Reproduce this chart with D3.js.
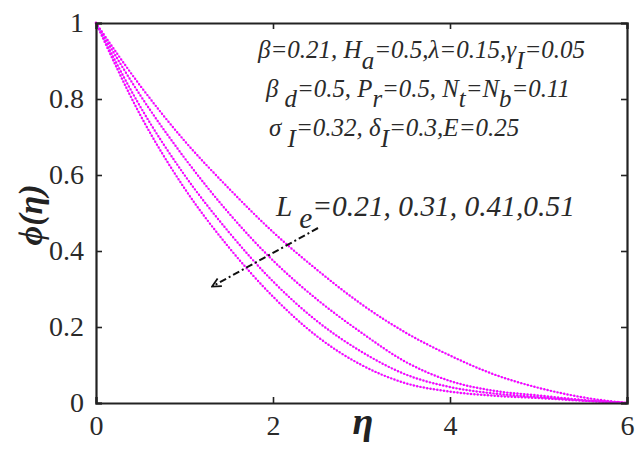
<!DOCTYPE html>
<html>
<head>
<meta charset="utf-8">
<script src="https://cdn.jsdelivr.net/npm/d3@7"></script>
<style>
  svg text { font-family: 'Liberation Serif', 'Times New Roman', serif; }
</style>
</head>
<body style="margin:0">
<svg id="chart" width="644" height="449"></svg>
<script>
const eta = [0, 0.5, 1, 1.5, 2, 2.5, 3, 3.5, 4, 4.5, 5, 5.5, 6]
const phiLe021 = [1, 0.835, 0.69, 0.565, 0.45, 0.35, 0.26, 0.185, 0.125, 0.075, 0.04, 0.015, 0]
const phiLe031 = [1, 0.81, 0.645, 0.5, 0.375, 0.272, 0.185, 0.108, 0.058, 0.032, 0.02, 0.008, 0]
const phiLe041 = [1, 0.78, 0.6, 0.45, 0.32, 0.215, 0.135, 0.075, 0.042, 0.025, 0.016, 0.007, 0]
const phiLe051 = [1, 0.758, 0.565, 0.41, 0.28, 0.175, 0.1, 0.052, 0.03, 0.019, 0.013, 0.006, 0]
const series = [phiLe021, phiLe031, phiLe041, phiLe051]
const xTicks = [0, 2, 4, 6]
const yTicks = [0, 0.2, 0.4, 0.6, 0.8, 1]

const FONT = 'Liberation Serif'
const svg = d3.select('#chart')
const margin = { top: 23, right: 17, bottom: 46, left: 96 }
const W = 644 - margin.left - margin.right
const H = 449 - margin.top - margin.bottom

const x = d3.scaleLinear().domain([0, 6]).range([0, W])
const y = d3.scaleLinear().domain([0, 1]).range([H, 0])

const g = svg.append('g').attr('transform', `translate(${margin.left},${margin.top})`)

// curves: thin blue core + magenta dots
const line = d3.line().x((d, i) => x(eta[i])).y((d) => y(d)).curve(d3.curveMonotoneX)
series.forEach((s) => {
  g.append('path').attr('d', line(s)).attr('fill', 'none')
    .attr('stroke', '#7f8cff').attr('stroke-width', 0.6)
  g.append('path').attr('d', line(s)).attr('fill', 'none')
    .attr('stroke', '#ff00ff').attr('stroke-width', 2.4)
    .attr('stroke-linecap', 'round').attr('stroke-dasharray', '0,3.4')
})

// axes box with inward ticks
const tickLen = 6
const axB = g.append('g').attr('transform', `translate(0,${H})`)
  .call(d3.axisBottom(x).tickValues(xTicks).tickSize(-tickLen).tickPadding(12).tickFormat(d3.format('d')))
const axT = g.append('g')
  .call(d3.axisTop(x).tickValues(xTicks).tickSize(-tickLen).tickFormat(''))
const axL = g.append('g')
  .call(d3.axisLeft(y).tickValues(yTicks).tickSize(-tickLen).tickPadding(12).tickFormat((d) => d === 0 || d === 1 ? d3.format('d')(d) : d3.format('.1f')(d)))
const axR = g.append('g').attr('transform', `translate(${W},0)`)
  .call(d3.axisRight(y).tickValues(yTicks).tickSize(-tickLen).tickFormat(''))
;[axB, axT, axL, axR].forEach((a) => {
  a.attr('font-family', FONT)
  a.select('.domain').attr('stroke', '#222').attr('stroke-width', 2.2)
  a.selectAll('.tick line').attr('stroke', '#222').attr('stroke-width', 1.6)
  a.selectAll('.tick text').attr('font-family', FONT).attr('font-size', 28).attr('fill', '#2a2a2a')
})

// axis titles
svg.append('text').attr('x', 363).attr('y', 434).attr('text-anchor', 'middle').attr('fill', '#222')
  .attr('font-family', FONT).attr('font-size', 38).attr('font-style', 'italic').attr('font-weight', 'bold').text('η')
svg.append('text').attr('transform', 'translate(42,215) rotate(-90)').attr('text-anchor', 'middle').attr('fill', '#222')
  .attr('font-family', FONT).attr('font-size', 34).attr('font-style', 'italic').attr('font-weight', 'bold').text('ϕ(η)')

// annotation text with subscripts, font size scaled so each line spans the width seen in the figure
const note = (x0, y0, size, targetW, parts) => {
  const t = svg.append('text').attr('x', x0).attr('y', y0).attr('font-family', FONT)
    .attr('font-style', 'italic').attr('fill', '#2a2a2a').attr('font-size', size)
  const drop = 0.42
  let shift = 0
  parts.forEach(([s, sub]) => {
    const want = sub ? 1 : 0
    t.append('tspan').text(s).attr('dy', (want - shift) * drop * size)
    shift = want
  })
  const k = Math.min(1.25, targetW / t.node().getComputedTextLength())
  t.attr('font-size', size * k)
  t.selectAll('tspan').each(function () {
    const sp = d3.select(this)
    sp.attr('dy', +sp.attr('dy') * k)
  })
  return t
}
note(258, 58, 20, 349, [['β=0.21, H'], ['a', 1], ['=0.5,λ=0.15,γ'], ['I', 1], ['=0.05']])
note(266, 97, 20, 304, [['β'], [' d', 1], ['=0.5, P'], ['r', 1], ['=0.5, N'], ['t', 1], ['=N'], ['b', 1], ['=0.11']])
note(269, 136, 20, 253, [['σ'], [' I', 1], ['=0.32, δ'], ['I', 1], ['=0.3,E=0.25']])
note(276, 216, 28, 299, [['L'], [' e', 1], ['=0.21, 0.31, 0.41,0.51']])

// arrow showing increasing Le
svg.append('defs').append('marker').attr('id', 'ah').attr('viewBox', '0 0 10 10')
  .attr('refX', 8).attr('refY', 5).attr('markerWidth', 5.5).attr('markerHeight', 5.5)
  .attr('orient', 'auto').attr('markerUnits', 'strokeWidth')
  .append('path').attr('d', 'M1,1 L9,5 L1,9').attr('fill', 'none').attr('stroke', '#111').attr('stroke-width', 1.6)
svg.append('line').attr('x1', 318).attr('y1', 228).attr('x2', 213).attr('y2', 286)
  .attr('stroke', '#111').attr('stroke-width', 2).attr('stroke-dasharray', '7,3,2,3')
  .attr('marker-end', 'url(#ah)')
</script>
</body>
</html>
